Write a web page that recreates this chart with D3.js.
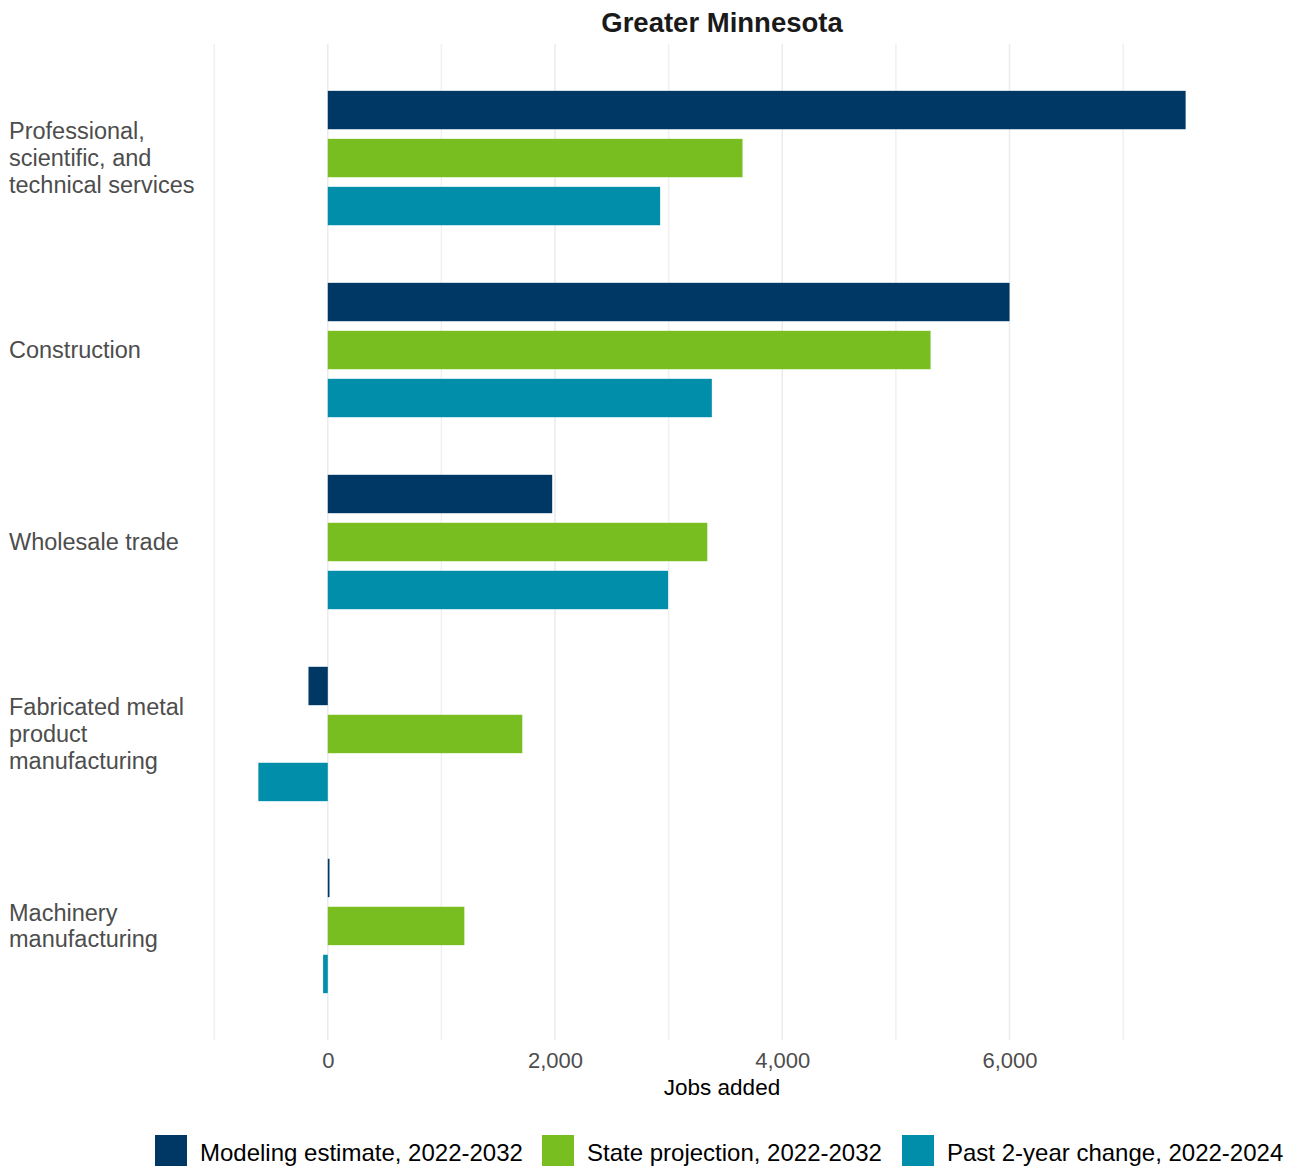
<html>

<head>
  <meta charset="UTF-8">
  <title>Greater Minnesota</title>
  <style>
    body {
      margin: 0;
      padding: 0;
      background-color: #fff;
      font-family: "Liberation Sans", Arial, sans-serif;
    }
  </style>
</head>

<body>
  <div id="chart"></div>

  <script src="https://cdnjs.cloudflare.com/ajax/libs/d3/7.8.4/d3.min.js"></script>
  <script>
    // Data
    const industries = [
      "Professional, scientific, and technical services",
      "Construction",
      "Wholesale trade",
      "Fabricated metal product manufacturing",
      "Machinery manufacturing"
    ];
    const industryLines = [
      ["Professional,", "scientific, and", "technical services"],
      ["Construction"],
      ["Wholesale trade"],
      ["Fabricated metal", "product", "manufacturing"],
      ["Machinery", "manufacturing"]
    ];
    const seriesNames = [
      "Modeling estimate, 2022-2032",
      "State projection, 2022-2032",
      "Past 2-year change, 2022-2024"
    ];
    const seriesColors = ["#003865", "#78BE21", "#008EAA"];
    const modelingEstimate = [7550, 6000, 1975, -170, 15];
    const stateProjection = [3650, 5305, 3340, 1712, 1202];
    const pastChange = [2925, 3380, 2995, -611, -41];
    const xTicks = [0, 2000, 4000, 6000];
    const xMinorTicks = [-1000, 1000, 3000, 5000, 7000];

    const width = 1307;
    const height = 1166;
    const margin = { top: 44, right: 75, bottom: 126, left: 212 };

    const svg = d3.select("#chart")
      .append("svg")
      .attr("width", width)
      .attr("height", height);

    const values = [modelingEstimate, stateProjection, pastChange];
    const allValues = values.flat();
    const lo = d3.min(allValues), hi = d3.max(allValues);
    const pad = (hi - lo) * 0.05;

    const x = d3.scaleLinear()
      .domain([lo - pad, hi + pad])
      .range([margin.left, width - margin.right]);

    const y = d3.scaleBand()
      .domain(industries)
      .range([margin.top, height - margin.bottom])
      .paddingInner(0.3)
      .paddingOuter(0.244);

    const ySub = d3.scaleBand()
      .domain(d3.range(seriesNames.length))
      .range([0, y.bandwidth()])
      .paddingInner(0.2);

    // Gridlines
    const grid = svg.append("g");
    grid.selectAll("line.minor")
      .data(xMinorTicks)
      .enter()
      .append("line")
      .attr("x1", d => x(d))
      .attr("x2", d => x(d))
      .attr("y1", margin.top)
      .attr("y2", height - margin.bottom)
      .attr("stroke", "#f0f0f0")
      .attr("stroke-width", 1.5);
    grid.selectAll("line.major")
      .data(xTicks)
      .enter()
      .append("line")
      .attr("x1", d => x(d))
      .attr("x2", d => x(d))
      .attr("y1", margin.top)
      .attr("y2", height - margin.bottom)
      .attr("stroke", "#ebebeb")
      .attr("stroke-width", 1.5);

    // Bars
    values.forEach((series, s) => {
      svg.append("g")
        .selectAll("rect")
        .data(series)
        .enter()
        .append("rect")
        .attr("x", d => x(Math.min(0, d)))
        .attr("width", d => Math.max(1, Math.abs(x(d) - x(0))))
        .attr("y", (d, i) => y(industries[i]) + ySub(s))
        .attr("height", ySub.bandwidth())
        .attr("fill", seriesColors[s]);
    });

    // X axis labels
    const xAxis = svg.append("g")
      .attr("transform", `translate(0,${height - margin.bottom})`)
      .call(d3.axisBottom(x).tickValues(xTicks).tickSize(0).tickPadding(12).tickFormat(d3.format(",")));
    xAxis.select(".domain").remove();
    xAxis.selectAll("text")
      .attr("font-family", "Liberation Sans, Arial, sans-serif")
      .attr("font-size", 22)
      .attr("fill", "#4d4d4d");

    svg.append("text")
      .attr("x", (margin.left + width - margin.right) / 2)
      .attr("y", 1095)
      .attr("text-anchor", "middle")
      .attr("font-size", 22.5)
      .attr("fill", "#000")
      .text("Jobs added");

    // Category labels (left aligned)
    const lineH = 26.7;
    industries.forEach((name, i) => {
      const lines = industryLines[i];
      const cy = y(name) + y.bandwidth() / 2;
      const t = svg.append("text")
        .attr("x", 9)
        .attr("font-size", 23.5)
        .attr("fill", "#4d4d4d");
      lines.forEach((ln, j) => {
        t.append("tspan")
          .attr("x", 9)
          .attr("y", cy + (j - (lines.length - 1) / 2) * lineH + 8)
          .text(ln);
      });
    });

    // Title
    svg.append("text")
      .attr("x", (margin.left + width - margin.right) / 2)
      .attr("y", 32)
      .attr("text-anchor", "middle")
      .attr("font-size", 27.5)
      .attr("font-weight", "bold")
      .attr("fill", "#1a1a1a")
      .text("Greater Minnesota");

    // Legend
    const legendX = [155, 542, 902];
    const legend = svg.append("g");
    seriesNames.forEach((name, s) => {
      legend.append("rect")
        .attr("x", legendX[s])
        .attr("y", 1135)
        .attr("width", 32)
        .attr("height", 32)
        .attr("fill", seriesColors[s]);
      legend.append("text")
        .attr("x", legendX[s] + 45)
        .attr("y", 1161)
        .attr("font-size", 24)
        .attr("fill", "#000")
        .text(name);
    });
  </script>
</body>

</html>
